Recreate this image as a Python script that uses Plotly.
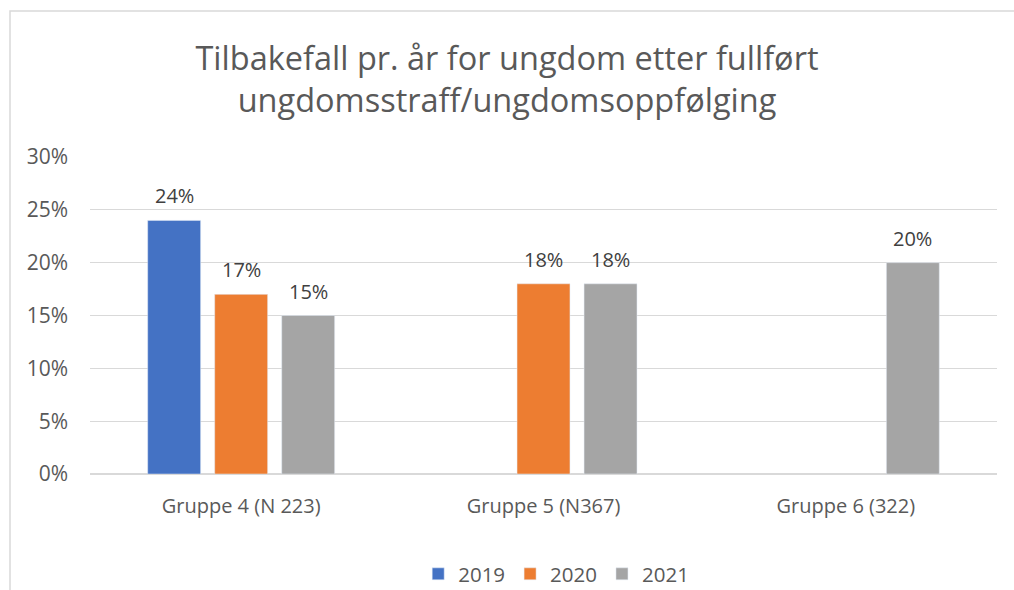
import plotly.graph_objects as go

categories = ["Gruppe 4 (N 223)", "Gruppe 5 (N367)", "Gruppe 6 (322)"]
years = ["2019", "2020", "2021"]
values_2019 = [0.24, None, None]
values_2020 = [0.17, 0.18, None]
values_2021 = [0.15, 0.18, 0.20]
colors = ["#4472C4", "#ED7D31", "#A5A5A5"]

W, H = 1014, 590
L, R, T, B = 90, 17, 157, 116
pw, ph = W - L - R, H - T - B
BARGAP, GROUPGAP = 0.335, 0.21

series = [values_2019, values_2020, values_2021]
xpos = list(range(len(categories)))
slot = (1 - BARGAP) / len(series)

fig = go.Figure()
for name, vals, col in zip(years, series, colors):
    fig.add_trace(go.Bar(x=xpos, y=vals, name=name, marker_color=col))

for j, vals in enumerate(series):
    for i, v in enumerate(vals):
        if v is None:
            continue
        fig.add_annotation(
            x=xpos[i] + (j - (len(series) - 1) / 2) * slot, y=v,
            text=f"{round(v * 100)}%", showarrow=False,
            yanchor="bottom", yshift=9,
            font=dict(size=20, color="#404040"),
        )

fig.update_layout(
    width=W, height=H,
    margin=dict(l=L, r=R, t=T, b=B, autoexpand=False),
    paper_bgcolor="white", plot_bgcolor="white",
    font=dict(family="Open Sans, Liberation Sans, sans-serif", color="#595959"),
    title=dict(
        text="Tilbakefall pr. år for ungdom etter fullført<br>ungdomsstraff/ungdomsoppfølging",
        x=0.5, xanchor="center", y=1 - 70 / H, yanchor="middle",
        font=dict(size=32.5, color="#595959"),
    ),
    barmode="group", bargap=BARGAP, bargroupgap=GROUPGAP,
    showlegend=True,
    legend=dict(orientation="h", x=0.514, xanchor="center", yref="container", y=(H - 574) / H, yanchor="middle",
                font=dict(size=20.5, color="#595959"), traceorder="normal", itemwidth=30),
    xaxis=dict(tickmode="array", tickvals=xpos, ticktext=categories, range=[-0.5, len(categories) - 0.5],
               showgrid=False, showline=False, zeroline=False, ticks="",
               tickfont=dict(size=20, color="#595959"), ticklabelstandoff=18, automargin=False),
    yaxis=dict(range=[0, 0.30], dtick=0.05, tickformat=".0%", showgrid=True,
               gridcolor="#D9D9D9", gridwidth=1, zeroline=True, zerolinecolor="#D9D9D9",
               showline=False, ticks="", tickfont=dict(size=21, color="#595959"), ticklabelstandoff=21,
               automargin=False),
)

bx = (10 - L) / pw
by = 1 + (T - 11) / ph
fig.add_shape(type="path", xref="paper", yref="paper",
              path=f"M {bx} -1 L {bx} {by} L 1.5 {by}",
              line=dict(color="#D9D9D9", width=1.5))

fig.write_html("out.html", config={"displayModeBar": False},
               post_script="document.body.style.margin='0';")
